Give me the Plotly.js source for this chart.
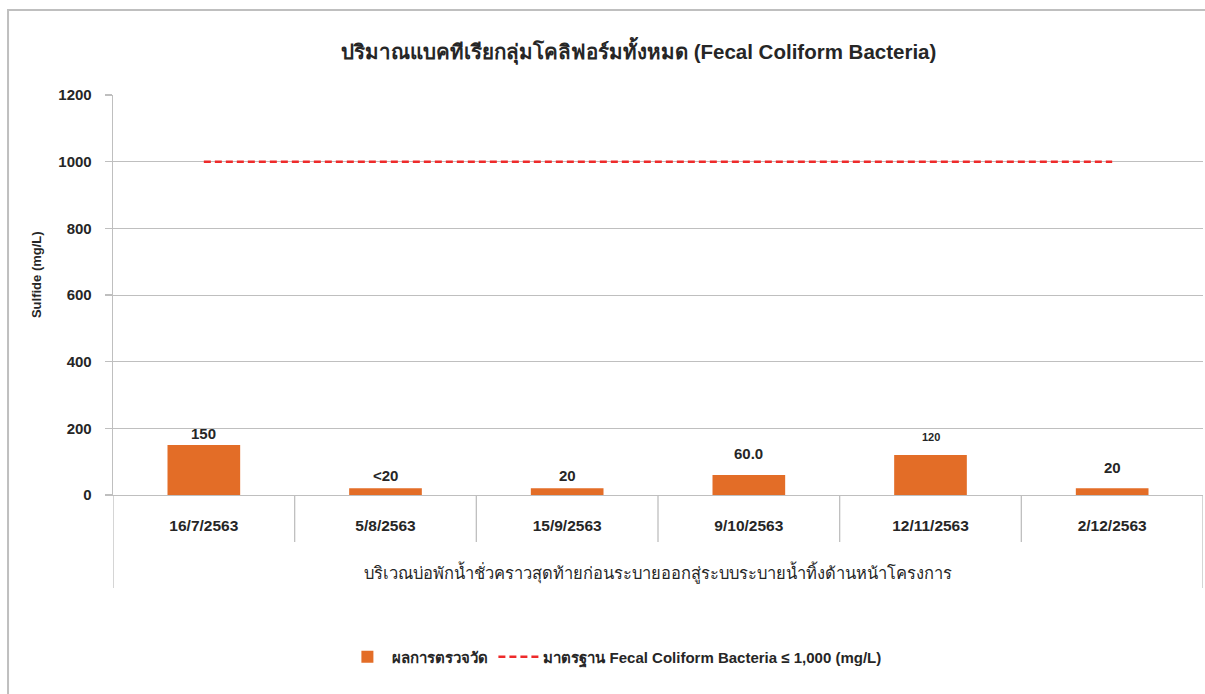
<!DOCTYPE html>
<html>
<head>
<meta charset="utf-8">
<script src="https://cdn.plot.ly/plotly-3.0.1.min.js"></script>
<style>html,body{margin:0;padding:0;background:#fff;}#chart{width:1205px;height:694px;}</style>
</head>
<body>
<div id="chart"></div>
<script>
const categories = ["16/7/2563", "5/8/2563", "15/9/2563", "9/10/2563", "12/11/2563", "2/12/2563"];
const measured = [150, 20, 20, 60, 120, 20];
const measuredLabels = ["150", "<20", "20", "60.0", "120", "20"];
const standard = [1000, 1000, 1000, 1000, 1000, 1000];
const groupLabel = "บริเวณบ่อพักน้ำชั่วคราวสุดท้ายก่อนระบายออกสู่ระบบระบายน้ำทิ้งด้านหน้าโครงการ";
const titleText = "ปริมาณแบคทีเรียกลุ่มโคลิฟอร์มทั้งหมด (Fecal Coliform Bacteria)";
const yTitle = "Sulfide (mg/L)";
const seriesNames = ["ผลการตรวจวัด", "มาตรฐาน Fecal Coliform Bacteria ≤ 1,000 (mg/L)"];

// label style (offsets in px, font sizes)
const labelShift = [12, 13, 13, 22, 18, 21];
const labelSize = [15, 15, 15, 15, 11, 15];

const FONT = "Liberation Sans, Arial, Helvetica, sans-serif";
const DARK = "#262626";
const GRID = "#bfbfbf";

const traces = [
  {
    type: "bar",
    x: categories,
    y: measured,
    name: seriesNames[0],
    marker: {color: "#E36D27"},
    width: 0.4,
    hoverinfo: "x+y"
  },
  {
    type: "scatter",
    mode: "lines",
    x: categories,
    y: standard,
    name: seriesNames[1],
    line: {color: "#EE2A2A", width: 2.5, dash: "7px,4px"}
  }
];

const annotations = categories.map((c, i) => ({
  x: c, y: measured[i], xref: "x", yref: "y",
  text: "<b>" + measuredLabels[i].replace("<", "&lt;") + "</b>",
  showarrow: false, yanchor: "middle", yshift: labelShift[i],
  font: {family: FONT, size: labelSize[i], color: DARK}
}));
annotations.push({
  x: 0.5, y: -0.1925, xref: "paper", yref: "paper",
  text: groupLabel, showarrow: false, yanchor: "middle",
  font: {family: FONT, size: 16.5, color: DARK}
});
annotations.push({
  x: -0.0706, y: 0.55, xref: "paper", yref: "paper",
  text: "<b>" + yTitle + "</b>", showarrow: false, textangle: -90,
  xanchor: "center", yanchor: "middle",
  font: {family: FONT, size: 13, color: DARK}
});

const shapes = [];
// inner dividers between categories
for (let i = 0; i < categories.length - 1; i++) {
  shapes.push({type: "line", xref: "x", yref: "paper", x0: i + 0.5, x1: i + 0.5, y0: 0, y1: -0.1175,
    line: {color: GRID, width: 1.3}});
}
// outer dividers
[-0.5, categories.length - 0.5].forEach(v => shapes.push({
  type: "line", xref: "x", yref: "paper", x0: v, x1: v, y0: 0, y1: -0.2325,
  line: {color: GRID, width: 1.3}}));
// outer chart border
shapes.push({type: "path", xref: "paper", yref: "paper",
  path: "M -0.0963,-0.53 L -0.0963,1.2125 L 1.02,1.2125",
  line: {color: GRID, width: 2}});

const layout = {
  width: 1205, height: 694,
  margin: {l: 113, r: 2, t: 95, b: 199},
  paper_bgcolor: "#fff", plot_bgcolor: "#fff",
  font: {family: FONT, color: DARK},
  title: {text: "<b>" + titleText + "</b>", x: 0.53, xanchor: "center", y: 0.925, yanchor: "middle",
    font: {family: FONT, size: 20.5, color: DARK}},
  xaxis: {
    type: "category", range: [-0.5, categories.length - 0.5],
    showgrid: false, showline: true, linecolor: GRID, linewidth: 1.3,
    ticks: "", ticklabelstandoff: 16,
    tickfont: {family: FONT, size: 15.5, color: DARK, weight: "bold"}
  },
  yaxis: {
    range: [0, 1200], dtick: 200, tick0: 0,
    showgrid: true, gridcolor: GRID, gridwidth: 1,
    zeroline: false, showline: true, linecolor: GRID, linewidth: 1.3,
    ticks: "outside", ticklen: 7, tickcolor: GRID, tickwidth: 1.3,
    ticklabelstandoff: 10,
    tickfont: {family: FONT, size: 15, color: DARK, weight: "bold"}
  },
  bargap: 0.6,
  showlegend: true,
  legend: {orientation: "h", x: 0.46, xanchor: "center", y: -0.405, yanchor: "middle",
    itemwidth: 40, font: {family: FONT, size: 15, color: DARK, weight: "bold"}, traceorder: "normal"},
  annotations: annotations,
  shapes: shapes
};

Plotly.newPlot("chart", traces, layout, {displayModeBar: false, staticPlot: true});
</script>
</body>
</html>
